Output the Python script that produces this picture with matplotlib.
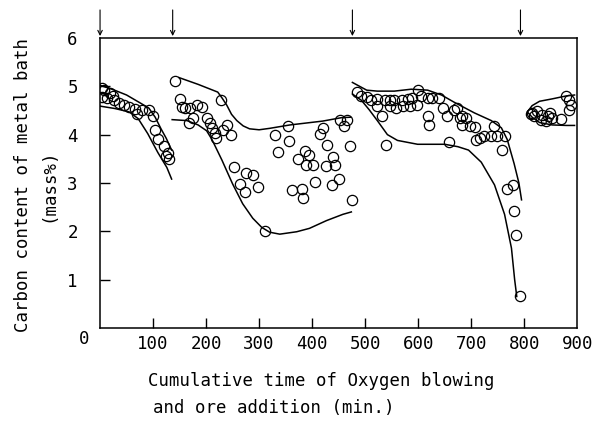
"""
Carbon content of the metal bath vs cumulative oxygen blowing / ore addition time
"""
import matplotlib
matplotlib.use("Agg")
import matplotlib.pyplot as plt

# --- measured points (x = min, y = mass%) ---
seg1_x = [3, 8, 18, 25, 3, 13, 27, 35, 45, 55, 65, 70, 80, 92, 100, 103, 110, 120, 128, 124, 130]
seg1_y = [4.97, 4.92, 4.86, 4.80, 4.78, 4.76, 4.72, 4.66, 4.62, 4.57, 4.53, 4.42, 4.51, 4.50,
          4.38, 4.10, 3.90, 3.76, 3.62, 3.55, 3.49]

seg2_x = [141, 151, 154, 160, 169, 183, 192, 229, 175, 168, 201, 207, 211, 217, 218, 239, 232,
          247, 252, 275, 288, 264, 273, 298, 311,
          354, 330, 356, 335, 386, 395, 373, 388, 401, 427, 429, 420, 414, 439, 444, 471, 452,
          465, 461, 405, 450, 437, 363, 380, 382, 476]
seg2_y = [5.12, 4.73, 4.57, 4.55, 4.55, 4.61, 4.57, 4.71, 4.35, 4.24, 4.35, 4.24, 4.14, 4.04,
          3.94, 4.20, 4.10, 4.00, 3.33, 3.20, 3.16, 2.98, 2.82, 2.92, 2.00,
          4.18, 4.00, 3.86, 3.63, 3.67, 3.57, 3.49, 3.37, 3.37, 3.35, 3.78, 4.14, 4.02, 3.53,
          3.37, 3.76, 4.31, 4.31, 4.18, 3.02, 3.08, 2.96, 2.86, 2.88, 2.68, 2.65]

seg3_x = [484, 493, 503, 512, 523, 537, 546, 555, 569, 580, 589, 599, 606, 618, 627, 640,
          546, 559, 571, 584, 597, 522, 531, 540, 659, 618, 621, 646, 655, 668, 678,
          674, 682, 691, 682, 697, 708, 744, 749, 738, 725, 716, 710, 763, 759, 768, 778,
          781, 785, 793]
seg3_y = [4.88, 4.80, 4.78, 4.71, 4.73, 4.71, 4.71, 4.71, 4.71, 4.73, 4.76, 4.92, 4.80, 4.76,
          4.76, 4.76,
          4.59, 4.55, 4.59, 4.59, 4.61, 4.59, 4.39, 3.78, 3.84, 4.39, 4.20, 4.55, 4.39, 4.51,
          4.35,
          4.55, 4.39, 4.35, 4.20, 4.18, 4.16, 4.18, 3.98, 3.98, 3.98, 3.92, 3.88, 3.98, 3.69,
          2.88, 2.96, 2.41, 1.92, 0.67]

seg4_x = [879, 885, 889, 885, 815, 825, 834, 844, 853, 870, 819, 832, 842, 812, 848]
seg4_y = [4.80, 4.71, 4.61, 4.51, 4.45, 4.49, 4.41, 4.39, 4.35, 4.33, 4.39, 4.31, 4.29,
          4.42, 4.45]

# --- hand drawn envelope curves ---
env1_up_x = [0, 25, 50, 75, 92, 104, 115, 125, 135]
env1_up_y = [5.02, 4.93, 4.82, 4.66, 4.55, 4.36, 4.12, 3.92, 3.68]
env1_lo_x = [0, 28, 55, 72, 90, 109, 126, 135]
env1_lo_y = [4.59, 4.54, 4.47, 4.33, 4.02, 3.63, 3.32, 3.08]

env2_up_x = [149, 185, 222, 230, 239, 248, 258, 270, 282, 300, 320, 358, 420, 455, 472]
env2_up_y = [5.18, 5.04, 4.88, 4.76, 4.61, 4.42, 4.29, 4.18, 4.12, 4.10, 4.13, 4.20, 4.28,
             4.35, 4.36]
env2_lo_x = [136, 164, 185, 201, 211, 230, 250, 269, 288, 305, 320, 339, 371, 395, 427,
             458, 474]
env2_lo_y = [4.31, 4.29, 4.20, 4.08, 3.90, 3.47, 2.98, 2.57, 2.27, 2.08, 1.98, 1.94, 1.99,
             2.06, 2.22, 2.35, 2.40]

env3_up_x = [476, 503, 523, 555, 587, 618, 644, 668, 706, 738, 757, 768, 781, 790, 795]
env3_up_y = [5.08, 4.92, 4.90, 4.90, 4.94, 4.92, 4.82, 4.67, 4.45, 4.29, 4.14, 3.90, 3.40,
             3.00, 2.65]
env3_lo_x = [476, 493, 508, 523, 542, 561, 599, 650, 675, 695, 719, 744, 763, 776, 782, 786]
env3_lo_y = [4.84, 4.71, 4.51, 4.29, 4.00, 3.88, 3.80, 3.80, 3.75, 3.68, 3.43, 2.96, 2.35,
             1.65, 1.00, 0.65]

env4_x = [895, 879, 853, 829, 815, 806, 815, 829, 853, 880, 895]
env4_y = [4.82, 4.80, 4.74, 4.69, 4.60, 4.47, 4.36, 4.25, 4.20, 4.19, 4.19]

# start of each blowing period (arrows above the frame)
blow_starts = [0, 137, 476, 793]

x_ticks = [100, 200, 300, 400, 500, 600, 700, 800, 900]
y_ticks = [1, 2, 3, 4, 5, 6]

plt.rcParams['font.family'] = ['DejaVu Sans Mono', 'DejaVu Sans']
FS = 12.5

fig = plt.figure(figsize=(5.92, 4.22), dpi=100)
ax = fig.add_axes([0.169, 0.223, 0.806, 0.687])

mk = dict(linestyle='none', marker='o', markersize=7.4, markerfacecolor='none',
          markeredgecolor='black', markeredgewidth=0.9)
for xs, ys in [(seg1_x, seg1_y), (seg2_x, seg2_y), (seg3_x, seg3_y), (seg4_x, seg4_y)]:
    ax.plot(xs, ys, **mk)

for xs, ys in [(env1_up_x, env1_up_y), (env1_lo_x, env1_lo_y),
               (env2_up_x, env2_up_y), (env2_lo_x, env2_lo_y),
               (env3_up_x, env3_up_y), (env3_lo_x, env3_lo_y),
               (env4_x, env4_y)]:
    ax.plot(xs, ys, color='black', linewidth=1.1)

for xb in blow_starts:
    ax.annotate('', xy=(xb, 6.04), xytext=(xb, 6.58), annotation_clip=False,
                arrowprops=dict(arrowstyle='->', color='black', lw=0.8,
                                mutation_scale=8, shrinkA=0, shrinkB=0))

ax.set_xlim(0, 900)
ax.set_ylim(0, 6)
ax.set_xticks(x_ticks)
ax.set_xticklabels([str(v) for v in x_ticks], fontsize=FS)
ax.set_yticks(y_ticks)
ax.set_yticklabels([str(v) for v in y_ticks], fontsize=FS)
ax.tick_params(axis='x', direction='in', length=7, width=1, pad=5)
ax.tick_params(axis='y', direction='in', length=7, width=1, pad=16)
# no marks where ticks sit on the frame
ax.xaxis.get_major_ticks()[-1].tick1line.set_visible(False)
ax.yaxis.get_major_ticks()[-1].tick1line.set_visible(False)
for s in ax.spines.values():
    s.set_linewidth(1.1)

# shared origin label
ax.text(-0.033, -0.04, '0', transform=ax.transAxes, fontsize=FS, ha='center', va='center')

fig.text(36 / 592, 1 - 185 / 422, 'Carbon content of metal bath\n(mass%)', rotation=90,
         ha='center', va='center', multialignment='center', fontsize=FS, linespacing=1.5)
fig.text(148 / 592, 1 - 381 / 422, 'Cumulative time of Oxygen blowing',
         ha='left', va='center', fontsize=FS)
fig.text(153 / 592, 1 - 408 / 422, 'and ore addition (min.)',
         ha='left', va='center', fontsize=FS)

fig.savefig('out.png', dpi=100)
